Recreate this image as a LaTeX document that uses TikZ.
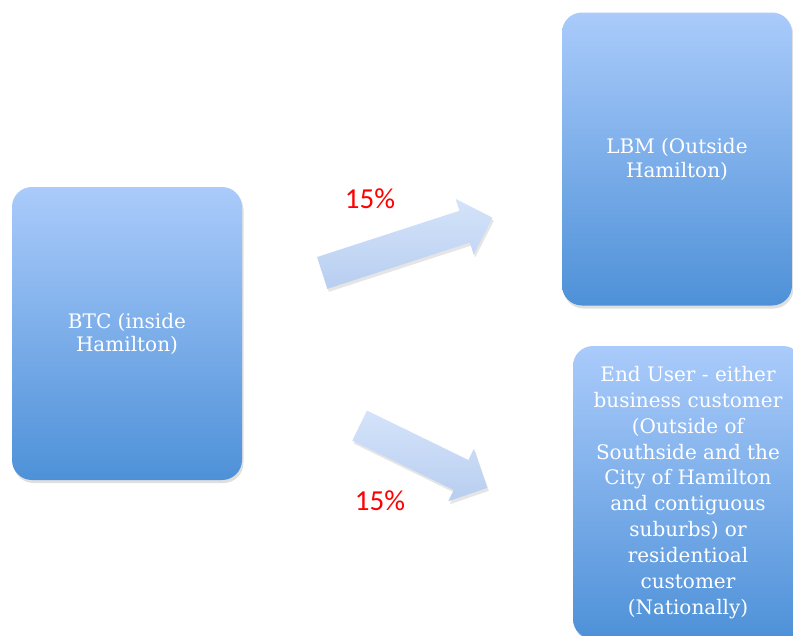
\documentclass[tikz,border=0pt]{standalone}
\usepackage{fontspec}
\setmainfont{DejaVu Serif}
\newfontfamily\pctfont{Carlito}
\usetikzlibrary{shapes.arrows,shadows}
\definecolor{boxtop}{RGB}{170,203,251}
\definecolor{boxbot}{RGB}{78,145,216}
\definecolor{arrtop}{RGB}{212,227,250}
\definecolor{arrbot}{RGB}{184,206,240}
\definecolor{pctred}{RGB}{255,0,0}
\begin{document}
\begin{tikzpicture}[x=1pt,y=-1pt,
  box/.style={rectangle, rounded corners=20pt, minimum width=230pt, minimum height=293pt,
    top color=boxtop, bottom color=boxbot, text=white, align=center, inner sep=0pt,
    drop shadow={opacity=0.25, shadow xshift=1.5pt, shadow yshift=-3pt}},
  blockarrow/.style={single arrow, single arrow head extend=12.5pt, minimum width=58pt,
    inner xsep=0pt, inner ysep=16.5pt, top color=arrtop, bottom color=arrbot, anchor=tail,
    drop shadow={opacity=0.2, shadow xshift=1.5pt, shadow yshift=-3pt}},
  pct/.style={text=pctred, font=\pctfont\fontsize{29}{32}\selectfont, inner sep=0pt}]
\clip (0,0) rectangle (793,635);
\fill[white] (0,0) rectangle (793,635);

\node[box, font=\fontsize{20}{23}\selectfont] (btc) at (127,333.5) {BTC (inside\\Hamilton)};
\node[box, font=\fontsize{20}{24}\selectfont] (lbm) at (677,159) {LBM (Outside\\Hamilton)};
\node[box, font=\fontsize{20}{25.9}\selectfont] (end) at (688,492.5)
  {End User - either\\business customer\\(Outside of\\Southside and the\\City of Hamilton\\and contiguous\\suburbs) or\\residentioal\\customer\\(Nationally)};

\node[blockarrow, minimum height=179pt, rotate=18] (arrA) at (322,273) {};
\node[blockarrow, minimum height=142pt, rotate=-26] (arrB) at (359.5,425.5) {};

\node[pct] (labA) at (370,199) {15\%};
\node[pct] (labB) at (380,501) {15\%};
\end{tikzpicture}
\end{document}
